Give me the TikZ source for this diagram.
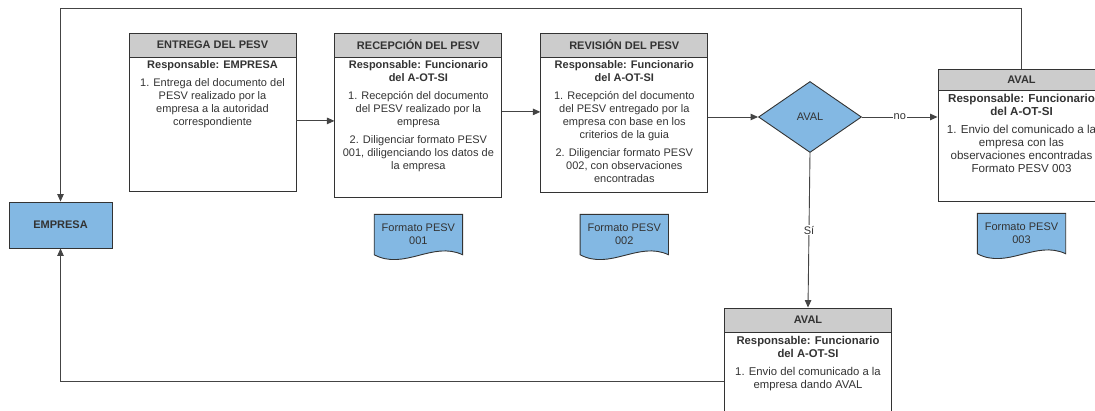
\documentclass[tikz,border=0pt]{standalone}
\usepackage{xcolor}
\usepackage{fontspec}
\setmainfont{Liberation Sans}
\usepackage{tikz}
\usetikzlibrary{positioning,shapes.geometric,arrows.meta,backgrounds}

\definecolor{boxline}{HTML}{333333}
\definecolor{flowline}{HTML}{444444}
\definecolor{headgray}{HTML}{CCCCCC}
\definecolor{docblue}{HTML}{83B8E3}
\definecolor{txtgray}{HTML}{333333}

\begin{document}
\begin{tikzpicture}
      [ font=\fontsize{11}{13}\selectfont, text=txtgray,
        header/.style={draw=boxline, fill=headgray, line width=0.9pt,
                       minimum width=167pt, minimum height=24pt, inner sep=0pt,
                       font=\fontsize{11}{13}\selectfont\bfseries},
        bodybox/.style={draw=boxline, line width=0.9pt, inner sep=3pt,
                        minimum width=167pt},
        actor/.style={draw=boxline, fill=docblue, line width=0.9pt,
                      minimum width=103pt, minimum height=46pt,
                      font=\fontsize{11}{13}\selectfont\bfseries},
        docnode/.style={minimum width=88pt, minimum height=40pt,
                        inner sep=0pt, align=center},
        decision/.style={diamond, draw=boxline, fill=docblue, line width=0.9pt,
                         minimum width=103pt, minimum height=71pt, inner sep=0pt},
        flow/.style={draw=flowline, line width=0.9pt,
                     -{Triangle[length=7.5pt,width=6.5pt]}},
        flowlabel/.style={fill=white, inner sep=1pt}
      ]
      \useasboundingbox (0,0) rectangle (1095pt,-411pt);
      \clip (0,0) rectangle (1095pt,-411pt);

      % process boxes
      \node[header]                        (entrega)     at (212.5pt,-45pt) {ENTREGA DEL PESV};
      \node[bodybox, below=0pt of entrega] (entrega-b)
        {\parbox[t][128pt][t]{161pt}{\centering
          \textbf{Responsable: EMPRESA}\\[5pt]
          1. Entrega del documento del\\
          PESV realizado por la\\
          empresa a la autoridad\\
          correspondiente}};

      \node[header, right=38pt of entrega]   (recepcion)   {RECEPCIÓN DEL PESV};
      \node[bodybox, below=0pt of recepcion] (recepcion-b)
        {\parbox[t][134pt][t]{161pt}{\centering
          \textbf{Responsable: Funcionario}\\
          \textbf{del A-OT-SI}\\[5pt]
          1. Recepción del documento\\
          del PESV realizado por la\\
          empresa\\[5pt]
          2. Diligenciar formato PESV\\
          001, diligenciando los datos de\\
          la empresa}};

      \node[header, right=38pt of recepcion] (revision)    {REVISIÓN DEL PESV};
      \node[bodybox, below=0pt of revision]  (revision-b)
        {\parbox[t][129pt][t]{161pt}{\centering
          \textbf{Responsable: Funcionario}\\
          \textbf{del A-OT-SI}\\[5pt]
          1. Recepción del documento\\
          del PESV entregado por la\\
          empresa con base en los\\
          criterios de la guia\\[5pt]
          2. Diligenciar formato PESV\\
          002, con observaciones\\
          encontradas}};

      \node[decision]                        (aval)        at (810pt,-117pt) {AVAL};

      \node[header, minimum height=21pt]     (noaval)      at (1021.5pt,-79.5pt) {AVAL};
      \node[bodybox, below=0pt of noaval]    (noaval-b)
        {\parbox[t][105pt][t]{161pt}{\centering\fontsize{11.6}{13}\selectfont
          \textbf{Responsable: Funcionario}\\
          \textbf{del A-OT-SI}\\[5pt]
          1. Envio del comunicado a la\\
          empresa con las\\
          observaciones encontradas\\
          Formato PESV 003}};

      \node[header]                          (siaval)      at (808pt,-320pt) {AVAL};
      \node[bodybox, below=0pt of siaval]    (siaval-b)
        {\parbox[t][92pt][t]{161pt}{\centering\fontsize{11.3}{13}\selectfont
          \textbf{Responsable: Funcionario}\\
          \textbf{del A-OT-SI}\\[5pt]
          1. Envio del comunicado a la\\
          empresa dando AVAL}};

      \node[actor]                           (empresa)     at (60.5pt,-225pt) {EMPRESA};

      % documents
      \node[docnode, below=16pt of recepcion-b] (fmt-a) {Formato PESV\\001};
      \node[docnode, below=21pt of revision-b]  (fmt-b) {Formato PESV\\002};
      \node[docnode, below=11pt of noaval-b]    (fmt-c) {Formato PESV\\003};
      \begin{scope}[on background layer]
        \foreach \f in {fmt-a,fmt-b,fmt-c}
          \filldraw[draw=boxline, fill=docblue, line width=0.9pt]
            (\f.south east) -- (\f.north east) -- (\f.north west) -- (\f.south west)
            .. controls +(30pt,-16pt) and +(-30pt,14pt) .. (\f.south east) -- cycle;
      \end{scope}

      % connectors
      \draw[flow] ([yshift=4pt]entrega-b.east)
               -- ([yshift=4pt]entrega-b.east -| recepcion-b.west);
      \draw[flow] ([yshift=16pt]recepcion-b.east)
               -- ([yshift=16pt]recepcion-b.east -| revision-b.west);
      \draw[flow] (aval.west -| revision-b.east) -- (aval.west);
      \draw[flow] (aval.east) -- node[flowlabel] {no} (aval.east -| noaval-b.west);
      \draw[flow] (aval.south) -- node[flowlabel] {Sí} (siaval.north);
      \draw[flow] (noaval.north) -- ++(0,60pt) -| (empresa.north);
      \draw[flow] (siaval-b.west) -| (empresa.south);
\end{tikzpicture}
\end{document}
